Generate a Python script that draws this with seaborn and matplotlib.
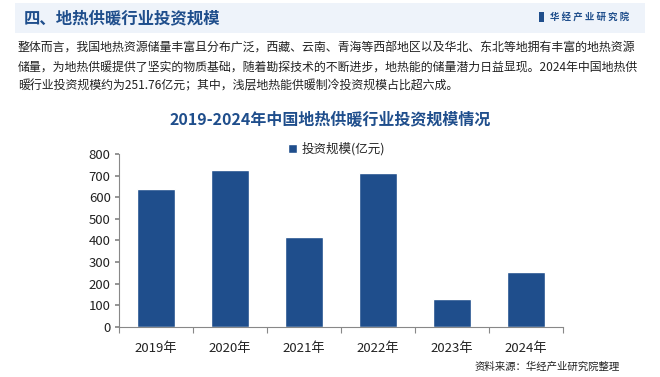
import matplotlib
matplotlib.use("Agg")
import matplotlib.pyplot as plt
import numpy as np
import pandas as pd
import seaborn as sns
from matplotlib.patches import Rectangle
from matplotlib.ticker import FixedLocator

# 数据
years = ["2019年", "2020年", "2021年", "2022年", "2023年", "2024年"]
invest = [638, 725, 415, 712, 128, 251.76]
series_name = "投资规模(亿元)"

header = "四、地热供暖行业投资规模"
brand = "华 经 产 业 研 究 院"
para = ["整体而言，我国地热资源储量丰富且分布广泛，西藏、云南、青海等西部地区以及华北、东北等地拥有丰富的地热资源",
        "储量，为地热供暖提供了坚实的物质基础，随着勘探技术的不断进步，地热能的储量潜力日益显现。2024年中国地热供",
        "暖行业投资规模约为251.76亿元；其中，浅层地热能供暖制冷投资规模占比超六成。"]
chart_title = "2019-2024年中国地热供暖行业投资规模情况"
source = "资料来源：华经产业研究院整理"

BLUE = "#1f4e8c"

sns.set_theme(style="white")
plt.rcParams['font.family'] = ['Noto Sans CJK SC', 'DejaVu Sans']

df = pd.DataFrame({"year": years, "value": invest})

fig = plt.figure(figsize=(6.6, 3.77), dpi=100)

# 顶部标题栏
fig.patches.append(Rectangle((15 / 660, 1 - 33 / 377), 630 / 660, 30 / 377,
                             transform=fig.transFigure, facecolor="#eef3fa",
                             edgecolor="none", zorder=0))
fig.text(24 / 660, 1 - 18 / 377, header, color=BLUE, fontsize=11.8,
         fontweight="bold", va="center", ha="left")
fig.patches.append(Rectangle((539 / 660, 1 - 22 / 377), 5 / 660, 10 / 377,
                             transform=fig.transFigure, facecolor=BLUE,
                             edgecolor="none"))
fig.text(550 / 660, 1 - 17 / 377, brand, color=BLUE, fontsize=6.8,
         fontweight="bold", va="center", ha="left")

for i, line in enumerate(para):
    fig.text(18 / 660, 1 - (48 + i * 19) / 377, line, fontsize=8.6,
             color="#222222", va="center", ha="left")

fig.text(0.5, 1 - 120 / 377, chart_title, color=BLUE, fontsize=11.5,
         fontweight="bold", va="center", ha="center")

ax = fig.add_axes([119 / 660, 50.3 / 377, 444 / 660, 172.7 / 377])
sns.barplot(data=df, x="year", y="value", color=BLUE, saturation=1,
            width=0.51, ax=ax, label=series_name)

ax.set_ylim(0, 800)
ax.set_yticks(np.arange(0, 801, 100))
ax.set_xlim(-0.5, len(years) - 0.5)
ax.set_xlabel("")
ax.set_ylabel("")
for s in ["top", "right"]:
    ax.spines[s].set_visible(False)
for s in ["left", "bottom"]:
    ax.spines[s].set_color("#888888")
    ax.spines[s].set_linewidth(0.8)

ax.tick_params(axis="y", labelsize=9.5, left=True, length=3, color="#888888",
               pad=3, labelcolor="#222222")
ax.tick_params(axis="x", which="major", labelsize=9.5, bottom=False, pad=5,
               labelcolor="#222222")
ax.xaxis.set_minor_locator(FixedLocator(np.arange(-0.5, len(years), 1)))
ax.tick_params(axis="x", which="minor", bottom=True, length=4,
               color="#888888", width=0.8)

leg = ax.legend(loc="center left", bbox_to_anchor=(0.355, 1.03), frameon=False,
                fontsize=9, handlelength=0.7, handleheight=0.7,
                handletextpad=0.4)

fig.text(620 / 660, 1 - 367 / 377, source, fontsize=7.5, color="#222222",
         va="center", ha="right")

fig.savefig("out.png", dpi=100)
